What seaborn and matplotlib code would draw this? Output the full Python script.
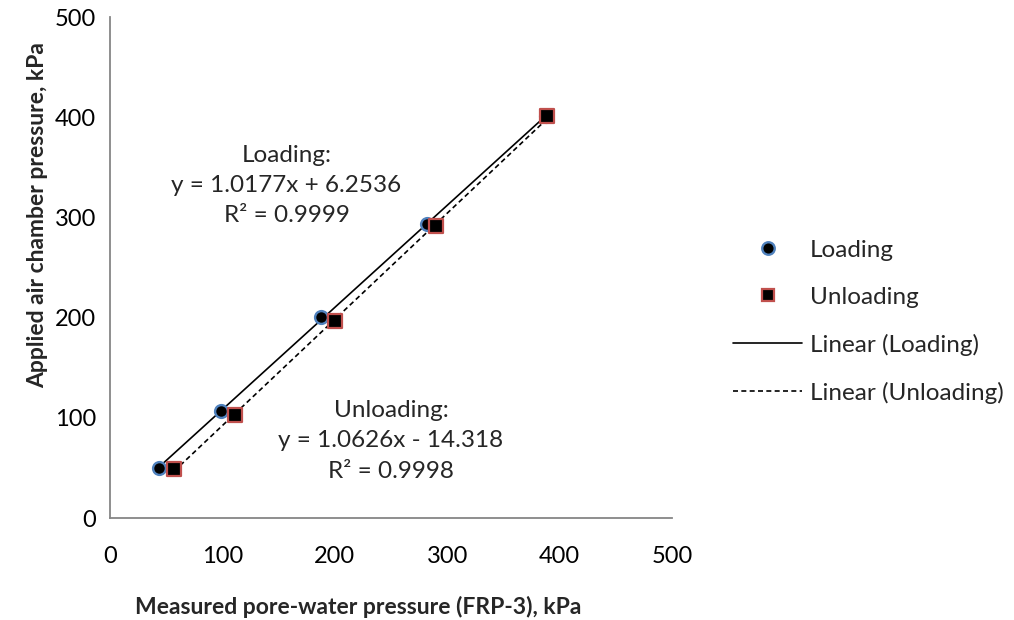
import matplotlib
matplotlib.use("Agg")
import matplotlib.pyplot as plt
import seaborn as sns
import numpy as np
from matplotlib.lines import Line2D

sns.set_style("white")
plt.rcParams['font.family'] = ['Lato', 'DejaVu Sans']

load_x = [44, 99, 188, 282, 388]
load_y = [50, 107, 201, 293, 401]
unload_x = [57, 111, 200, 290, 389]
unload_y = [49, 103, 197, 291, 401]

ticks = [0, 100, 200, 300, 400, 500]
xlabel = "Measured pore-water pressure (FRP-3), kPa"
ylabel = "Applied air chamber pressure, kPa"
load_eq = "Loading:\ny = 1.0177x + 6.2536\nR² = 0.9999"
unload_eq = "Unloading:\ny = 1.0626x - 14.318\nR² = 0.9998"

fig = plt.figure(figsize=(10.14, 6.2), dpi=100)
ax = fig.add_axes([0.1085, 0.1645, 0.5542, 0.808])

dash = (0, (3, 2))
sns.regplot(x=load_x, y=load_y, ax=ax, scatter=False, ci=None,
            line_kws=dict(color='black', lw=1.2, ls='-'))
sns.regplot(x=unload_x, y=unload_y, ax=ax, scatter=False, ci=None,
            line_kws=dict(color='black', lw=1.2, ls=dash))
sns.scatterplot(x=load_x, y=load_y, ax=ax, marker='o', s=85, color='black',
                edgecolor='#4F81BD', linewidth=1.7, zorder=5)
sns.scatterplot(x=unload_x, y=unload_y, ax=ax, marker='s', s=90, color='black',
                edgecolor='#C0504D', linewidth=1.6, zorder=5)

ax.set_xlim(0, 500)
ax.set_ylim(0, 500)
ax.set_xticks(ticks)
ax.set_yticks(ticks)
for s in ['top', 'right']:
    ax.spines[s].set_visible(False)
for s in ['left', 'bottom']:
    ax.spines[s].set_color('#868686')
    ax.spines[s].set_linewidth(1.3)
ax.tick_params(axis='both', which='both', direction='out', length=6, width=1.3,
               color='#868686', labelsize=17, labelcolor='black')
ax.tick_params(axis='x', pad=14)
ax.tick_params(axis='y', pad=4)
ax.set_xlabel(xlabel, fontsize=16.5, fontweight='bold')
ax.set_ylabel(ylabel, fontsize=16.5, fontweight='bold')
ax.xaxis.set_label_coords(0.441, -0.155)
ax.yaxis.set_label_coords(-0.11, 0.605)

ax.text(157, 332, load_eq, ha='center', va='center', fontsize=17.5, linespacing=1.55)
ax.text(250, 77, unload_eq, ha='center', va='center', fontsize=17.5, linespacing=1.55)

handles = [
    Line2D([], [], ls='none', marker='o', markersize=9, markerfacecolor='black',
           markeredgecolor='#4F81BD', markeredgewidth=1.7),
    Line2D([], [], ls='none', marker='s', markersize=9, markerfacecolor='black',
           markeredgecolor='#C0504D', markeredgewidth=1.6),
    Line2D([], [], color='black', lw=1.2, ls='-'),
    Line2D([], [], color='black', lw=1.2, ls=dash),
]
labels = ['Loading', 'Unloading', 'Linear (Loading)', 'Linear (Unloading)']
fig.legend(handles, labels, loc='center left', bbox_to_anchor=(0.7229, 0.481),
           frameon=False, fontsize=17.5, handlelength=2.84, handletextpad=0.33,
           labelspacing=1.07, borderpad=0, borderaxespad=0)

fig.savefig("out.png", dpi=100)
